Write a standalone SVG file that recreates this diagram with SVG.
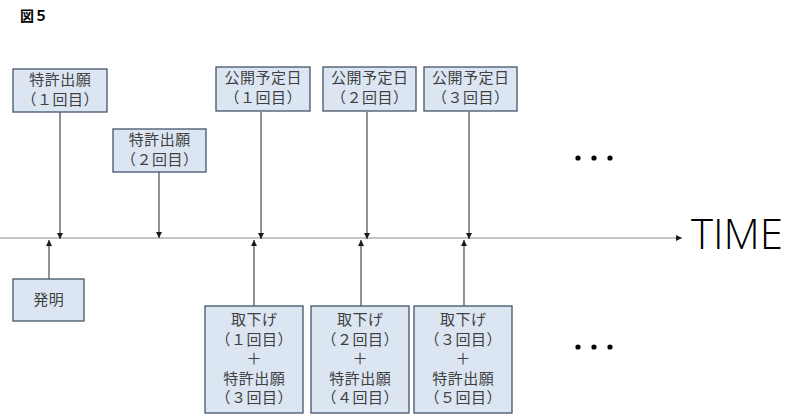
<svg xmlns="http://www.w3.org/2000/svg" width="810" height="417" viewBox="0 0 810 417">
<defs>
<marker id="ah" markerWidth="6" markerHeight="6" refX="6" refY="3" orient="auto" markerUnits="userSpaceOnUse">
<path d="M0,0 L6,3 L0,6 Z" fill="#1a1a1a"/>
</marker>
<style>
.box{fill:#dce6f3;stroke:#44546a;stroke-width:1.3}
.t{font-family:"Noto Sans CJK JP","Noto Sans",sans-serif;font-size:15px;fill:#404040;text-anchor:middle;letter-spacing:0.5px}
.c{stroke:#3a3a3a;stroke-width:1.1;fill:none;marker-end:url(#ah)}
.dot{fill:#000}
</style>
</defs>
<rect width="810" height="417" fill="#fff"/>
<text x="20" y="21" font-family="'Noto Sans CJK JP',sans-serif" font-size="14" font-weight="bold" fill="#000">図５</text>

<g id="connectors">
<line x1="0" y1="238" x2="682" y2="238" stroke="#8c8c8c" stroke-width="1.2" marker-end="url(#ah)"/>
<line class="c" x1="60" y1="112" x2="60" y2="239"/>
<line class="c" x1="159" y1="172" x2="159" y2="238"/>
<line class="c" x1="49" y1="279" x2="49" y2="240"/>
<line class="c" x1="261" y1="112" x2="261" y2="239"/>
<line class="c" x1="367" y1="112" x2="367" y2="239"/>
<line class="c" x1="469" y1="112" x2="469" y2="239"/>
<line class="c" x1="254" y1="306" x2="254" y2="240"/>
<line class="c" x1="361" y1="306" x2="361" y2="240"/>
<line class="c" x1="464" y1="306" x2="464" y2="240"/>
</g>

<g id="n_app1"><rect class="box" x="13" y="69" width="94" height="43"/>
<text class="t" x="60.3" y="85">特許出願</text><text class="t" x="60.3" y="105">（１回目）</text></g>
<g id="n_app2"><rect class="box" x="113" y="129" width="93" height="43"/>
<text class="t" x="159.8" y="145">特許出願</text><text class="t" x="159.8" y="165">（２回目）</text></g>
<g id="n_invent"><rect class="box" x="13" y="279" width="71" height="42"/>
<text class="t" x="48.8" y="305">発明</text></g>
<g id="n_pub1"><rect class="box" x="216" y="67" width="94" height="44"/>
<text class="t" x="263.3" y="83">公開予定日</text><text class="t" x="263.3" y="103">（１回目）</text></g>
<g id="n_pub2"><rect class="box" x="323" y="67" width="93" height="44"/>
<text class="t" x="369.8" y="83">公開予定日</text><text class="t" x="369.8" y="103">（２回目）</text></g>
<g id="n_pub3"><rect class="box" x="424" y="67" width="93" height="44"/>
<text class="t" x="470.8" y="83">公開予定日</text><text class="t" x="470.8" y="103">（３回目）</text></g>
<g id="n_wd1"><rect class="box" x="205" y="306" width="98" height="107"/>
<text class="t" x="254.3" y="325">取下げ</text><text class="t" x="254.3" y="345">（１回目）</text><text class="t" x="254.3" y="364">＋</text><text class="t" x="254.3" y="384">特許出願</text><text class="t" x="254.3" y="403">（３回目）</text></g>
<g id="n_wd2"><rect class="box" x="311" y="306" width="98" height="107"/>
<text class="t" x="360.3" y="325">取下げ</text><text class="t" x="360.3" y="345">（２回目）</text><text class="t" x="360.3" y="364">＋</text><text class="t" x="360.3" y="384">特許出願</text><text class="t" x="360.3" y="403">（４回目）</text></g>
<g id="n_wd3"><rect class="box" x="414" y="306" width="98" height="107"/>
<text class="t" x="463.3" y="325">取下げ</text><text class="t" x="463.3" y="345">（３回目）</text><text class="t" x="463.3" y="364">＋</text><text class="t" x="463.3" y="384">特許出願</text><text class="t" x="463.3" y="403">（５回目）</text></g>

<text x="691" y="249" font-family="'Open Sans','Liberation Sans',sans-serif" font-size="42" font-weight="300" fill="#000">TIME</text>

<g id="dots_top"><circle class="dot" cx="578" cy="158" r="2.6"/><circle class="dot" cx="594" cy="158" r="2.6"/><circle class="dot" cx="610" cy="158" r="2.6"/></g>
<g id="dots_bottom"><circle class="dot" cx="578" cy="347" r="2.6"/><circle class="dot" cx="594" cy="347" r="2.6"/><circle class="dot" cx="610" cy="347" r="2.6"/></g>
</svg>
